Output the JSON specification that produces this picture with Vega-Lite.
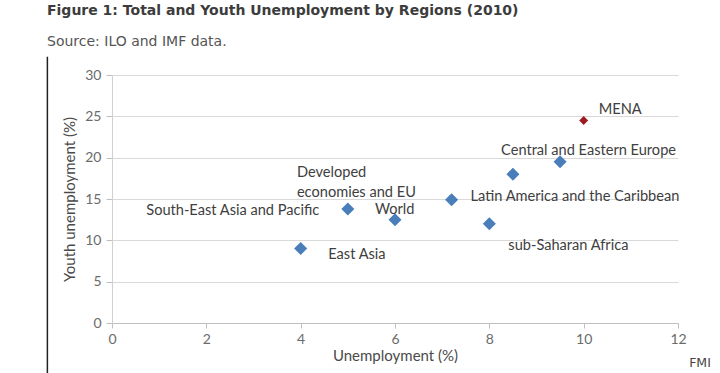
{
  "$schema": "https://vega.github.io/schema/vega-lite/v6.json",
  "width": 566,
  "height": 248,
  "autosize": "none",
  "padding": {"left": 112, "top": 75, "right": 42, "bottom": 50},
  "background": "white",
  "config": {
    "view": {"stroke": null},
    "font": "Lato",
    "text": {"font": "Lato"}
  },
  "title": {
    "text": "Figure 1: Total and Youth Unemployment by Regions (2010)",
    "subtitle": "Source: ILO and IMF data.",
    "anchor": "start",
    "frame": "group",
    "dx": -65,
    "offset": 7,
    "font": "DejaVu Sans",
    "fontSize": 14,
    "fontWeight": "bold",
    "color": "#3c3c3c",
    "subtitleFont": "DejaVu Sans",
    "subtitleFontSize": 14,
    "subtitleColor": "#555555",
    "subtitlePadding": 17
  },
  "data": {
    "values": [
      {"region": "East Asia", "unemployment": 4.0, "youth": 9.0, "group": "other"},
      {"region": "South-East Asia and Pacific", "unemployment": 5.0, "youth": 13.8, "group": "other"},
      {"region": "World", "unemployment": 6.0, "youth": 12.5, "group": "other"},
      {"region": "Latin America and the Caribbean", "unemployment": 7.2, "youth": 14.9, "group": "other"},
      {"region": "sub-Saharan Africa", "unemployment": 8.0, "youth": 12.0, "group": "other"},
      {"region": "Developed economies and EU", "unemployment": 8.5, "youth": 18.0, "group": "other"},
      {"region": "Central and Eastern Europe", "unemployment": 9.5, "youth": 19.5, "group": "other"},
      {"region": "MENA", "unemployment": 10.0, "youth": 24.5, "group": "MENA"}
    ]
  },
  "encoding": {
    "x": {
      "field": "unemployment",
      "type": "quantitative",
      "scale": {"domain": [0, 12], "nice": false},
      "axis": {
        "title": "Unemployment (%)",
        "values": [0, 2, 4, 6, 8, 10, 12],
        "grid": false,
        "labelFlush": false,
        "domainColor": "#bfbfbf",
        "tickColor": "#bfbfbf",
        "tickSize": 5,
        "labelFont": "Lato",
        "labelFontSize": 14,
        "labelColor": "#6b6b6b",
        "labelPadding": 4,
        "titleFont": "Lato",
        "titleFontSize": 15,
        "titleFontWeight": "normal",
        "titleColor": "#4a4a4a",
        "titlePadding": 2
      }
    },
    "y": {
      "field": "youth",
      "type": "quantitative",
      "scale": {"domain": [0, 30], "nice": false},
      "axis": {
        "title": "Youth unemployment (%)",
        "values": [0, 5, 10, 15, 20, 25, 30],
        "grid": true,
        "gridColor": "#d9d9d9",
        "domain": true,
        "domainColor": "#d0d0d0",
        "tickColor": "#bfbfbf",
        "tickSize": 6,
        "labelFont": "Lato",
        "labelFontSize": 14,
        "labelColor": "#6b6b6b",
        "labelPadding": 5,
        "titleFont": "Lato",
        "titleFontSize": 15,
        "titleFontWeight": "normal",
        "titleColor": "#4a4a4a",
        "titlePadding": 7
      }
    }
  },
  "layer": [
    {
      "transform": [{"filter": "datum.region == 'MENA'"}],
      "mark": {"type": "rule", "color": "#222222", "strokeWidth": 1.5, "clip": false},
      "encoding": {
        "x": {"datum": -1.37},
        "y": {"datum": 32.2},
        "y2": {"datum": -6.1}
      }
    },
    {
      "mark": {"type": "point", "shape": "diamond", "filled": true, "opacity": 1},
      "encoding": {
        "color": {
          "field": "group",
          "type": "nominal",
          "scale": {"domain": ["other", "MENA"], "range": ["#4a7ebb", "#9b1c22"]},
          "legend": null
        },
        "size": {
          "field": "group",
          "type": "nominal",
          "scale": {"domain": ["other", "MENA"], "range": [170, 80]},
          "legend": null
        }
      }
    },
    {
      "transform": [{"filter": "datum.region == 'MENA'"}],
      "mark": {"type": "text", "align": "left", "baseline": "middle", "dx": 15, "dy": -10, "fontSize": 14.6, "color": "#404040"},
      "encoding": {"text": {"field": "region"}}
    },
    {
      "transform": [{"filter": "datum.region == 'Central and Eastern Europe'"}],
      "mark": {"type": "text", "align": "left", "baseline": "middle", "dx": -59, "dy": -11, "fontSize": 14.6, "color": "#404040"},
      "encoding": {"text": {"field": "region"}}
    },
    {
      "transform": [{"filter": "datum.region == 'Latin America and the Caribbean'"}],
      "mark": {"type": "text", "align": "left", "baseline": "middle", "dx": 19, "dy": -2.5, "fontSize": 14.6, "color": "#404040"},
      "encoding": {"text": {"field": "region"}}
    },
    {
      "transform": [{"filter": "datum.region == 'sub-Saharan Africa'"}],
      "mark": {"type": "text", "align": "left", "baseline": "middle", "dx": 19, "dy": 22, "fontSize": 14.6, "color": "#404040"},
      "encoding": {"text": {"field": "region"}}
    },
    {
      "transform": [{"filter": "datum.region == 'World'"}],
      "mark": {"type": "text", "align": "left", "baseline": "middle", "dx": -20, "dy": -10, "fontSize": 14.6, "color": "#404040"},
      "encoding": {"text": {"field": "region"}}
    },
    {
      "transform": [{"filter": "datum.region == 'Developed economies and EU'"}],
      "mark": {"type": "text", "align": "left", "baseline": "middle", "dx": -216, "dy": -1.2, "fontSize": 14.6, "lineHeight": 20, "color": "#404040"},
      "encoding": {"text": {"value": ["Developed", "economies and EU"]}}
    },
    {
      "transform": [{"filter": "datum.region == 'South-East Asia and Pacific'"}],
      "mark": {"type": "text", "align": "right", "baseline": "middle", "dx": -28.5, "dy": 2, "fontSize": 14.6, "color": "#404040"},
      "encoding": {"text": {"field": "region"}}
    },
    {
      "transform": [{"filter": "datum.region == 'East Asia'"}],
      "mark": {"type": "text", "align": "left", "baseline": "middle", "dx": 27.6, "dy": 6.4, "fontSize": 14.6, "color": "#404040"},
      "encoding": {"text": {"field": "region"}}
    },
    {
      "transform": [{"filter": "datum.region == 'MENA'"}],
      "mark": {"type": "text", "align": "center", "baseline": "middle", "dx": 22, "dy": 40, "fontSize": 12.5, "font": "DejaVu Sans", "color": "#444444"},
      "encoding": {
        "x": {"datum": 12},
        "y": {"datum": 0},
        "text": {"value": "FMI"}
      }
    }
  ]
}
